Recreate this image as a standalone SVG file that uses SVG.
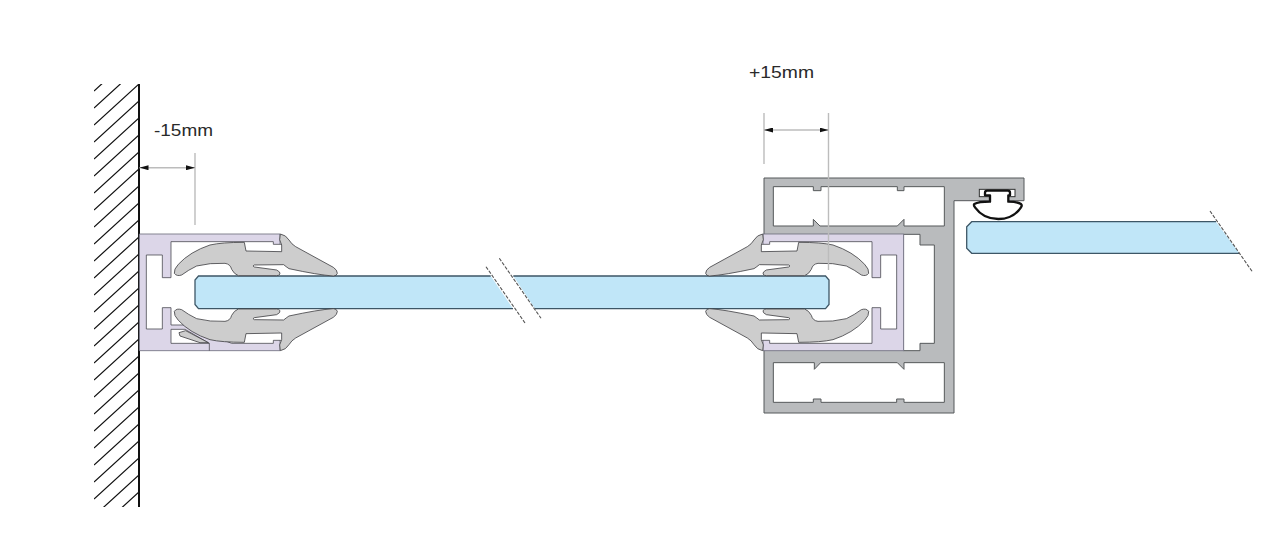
<svg xmlns="http://www.w3.org/2000/svg" xmlns:xlink="http://www.w3.org/1999/xlink" width="1280" height="559" viewBox="0 0 1280 559">
<style>
.bg{fill:#fff}
.purple{fill:#dcd6e8;stroke:#6a6a78;stroke-width:2.4}
.void{fill:#fff;stroke:#4a4a50;stroke-width:2.4}
.rub{fill:#cdcdcd;stroke:#3c3c40;stroke-width:2.4;stroke-linejoin:round}
.alu{fill:#b9bbbd;stroke:#55585a;stroke-width:1}
.hol{fill:#fff;stroke:#55585a;stroke-width:3}
.glassfill{fill:#c0e6f8;stroke:#3d5666;stroke-width:1.3}
.brk{fill:none;stroke:#555;stroke-width:1.1;stroke-dasharray:3.5 1.5}
.dim{fill:none;stroke:#bcbcbc;stroke-width:1.4}
.lab{font-family:"Liberation Sans",Arial,sans-serif;font-size:17px;fill:#2a2a2a}
</style>
<defs>
<clipPath id="wc"><rect x="94" y="84" width="45" height="423"/></clipPath>
<marker id="ah" viewBox="0 0 9 5" refX="9" refY="2.5" markerWidth="9" markerHeight="5" markerUnits="userSpaceOnUse" orient="auto-start-reverse"><path d="M0 0L9 2.5L0 5Z" fill="#111"/></marker>
<path id="gasket" class="rub" d="M586 72Q603 75 612 90Q620 103 632 110L745 172Q757 180 757 190Q755 198 745 198Q700 195 612 176Q603 170 596 164L508 165Q500 168 508 171L575 180Q587 186 585 192Q582 197 575 197L460 197Q447 192 440 178Q436 162 420 160Q375 158 335 168Q310 180 290 195Q275 200 268 190Q266 178 280 163Q315 125 375 105Q410 97 478 97L483 123L590 125L590 105Q580 90 586 72Z"/>
<path id="tray" class="purple" d="M163 72H585V422H163Z"/>
</defs>
<rect class="bg" width="1280" height="559"/>

<g id="wall">
<path clip-path="url(#wc)" fill="none" stroke="#111" stroke-width="1.2" d="M94 91L139 50M94 108L139 67M94 125L139 84M94 142L139 101M94 159L139 118M94 176L139 135M94 193L139 152M94 210L139 169M94 227L139 186M94 244L139 203M94 261L139 220M94 278L139 237M94 295L139 254M94 312L139 271M94 329L139 288M94 346L139 305M94 363L139 322M94 380L139 339M94 397L139 356M94 414L139 373M94 431L139 390M94 448L139 407M94 465L139 424M94 482L139 441M94 499L139 458M94 516L139 475M94 533L139 492M94 550L139 509"/>
<path d="M139 84V507" stroke="#111" stroke-width="2" fill="none"/>
</g>

<g id="right-frame">
<path class="alu" d="M764 178H1024V200.7H954V413H764Z"/>
<g transform="translate(690 170) scale(.33333)">
<path class="hol" d="M250 50H370V62H393V50H622V62H642V50H763V168H642V148L622 168H390L370 148V168H250Z"/>
<path class="hol" d="M250 578H373V598L392 578H622L642 598V578H763V697H642V687H620V697H393V687H370V697H250Z"/>
<path class="hol" d="M640 193H690V225H733V520H690V542H640Z"/>
</g>
</g>

<g id="right-tray" transform="translate(1043 0) scale(-1 1) translate(85 210) scale(.33333)">
<use xlink:href="#tray" href="#tray"/>
<path class="void" d="M590 391H565V400H258V293H232V357H184V135H232V203H258V95H565V103H590"/>
</g>

<g id="left-tray" transform="translate(85 210) scale(.33333)">
<use xlink:href="#tray" href="#tray"/>
<path class="void" d="M590 391H565V400H440L300 345H258V293H232V357H184V135H232V203H258V95H565V103H590"/>
<path class="void" d="M258 358H300L373 400H258Z"/>
<path class="rub" d="M282 368L302 362L370 398H345L285 378Z"/>
<path d="M373 400V422" stroke="#4a4a50" stroke-width="2.4" fill="none"/>
</g>

<g id="glass-left">
<path class="glassfill" d="M490.7 276H198.5L195 280V304.5L198.5 308.7H513"/>
</g>
<g id="glass-middle">
<path class="glassfill" d="M513.3 276H825.5L829 280V304.5L825.5 308.7H535"/>
</g>
<g id="glass-right">
<path class="glassfill" d="M1216 221.7H971.7L966.7 226.7V248.3L971.7 253.3H1239.3"/>
</g>

<g id="left-gaskets" transform="translate(85 210) scale(.33333)">
<use xlink:href="#gasket" href="#gasket"/>
<use xlink:href="#gasket" href="#gasket" transform="translate(0 494) scale(1 -1)"/>
</g>
<g id="right-gaskets" transform="translate(1043 0) scale(-1 1) translate(85 210) scale(.33333)">
<use xlink:href="#gasket" href="#gasket"/>
<use xlink:href="#gasket" href="#gasket" transform="translate(0 494) scale(1 -1)"/>
</g>

<g id="seal" transform="translate(940 170) scale(.33333)">
<rect x="118" y="58" width="107" height="22" fill="#fff" stroke="#333" stroke-width="3"/>
<path fill="#fff" stroke="#111" stroke-width="7" stroke-linejoin="round" d="M150 95Q115 95 103 102Q100 106 105 112Q130 147 175 147Q220 147 243 112Q247 106 243 102Q232 95 205 95V76H210V68Q210 62 203 62H142Q135 62 135 68V76H150Z"/>
</g>

<g id="breaks">
<path class="brk" d="M486 266.7L525 323M499.3 258.3L541 318.3M1210 211L1252.3 271.7"/>
</g>

<g id="connectors">
<path class="dim" d="M195 153V225M764 113V164M828.5 113V270"/>
<path class="dim" marker-start="url(#ah)" marker-end="url(#ah)" d="M139.5 167.7H195"/>
<path class="dim" marker-start="url(#ah)" marker-end="url(#ah)" d="M764 130H828.5"/>
</g>

<g id="labels">
<text class="lab" x="154" y="135.5" textLength="59" lengthAdjust="spacingAndGlyphs">-15mm</text>
<text class="lab" x="749" y="77.5" textLength="65" lengthAdjust="spacingAndGlyphs">+15mm</text>
</g>
</svg>
